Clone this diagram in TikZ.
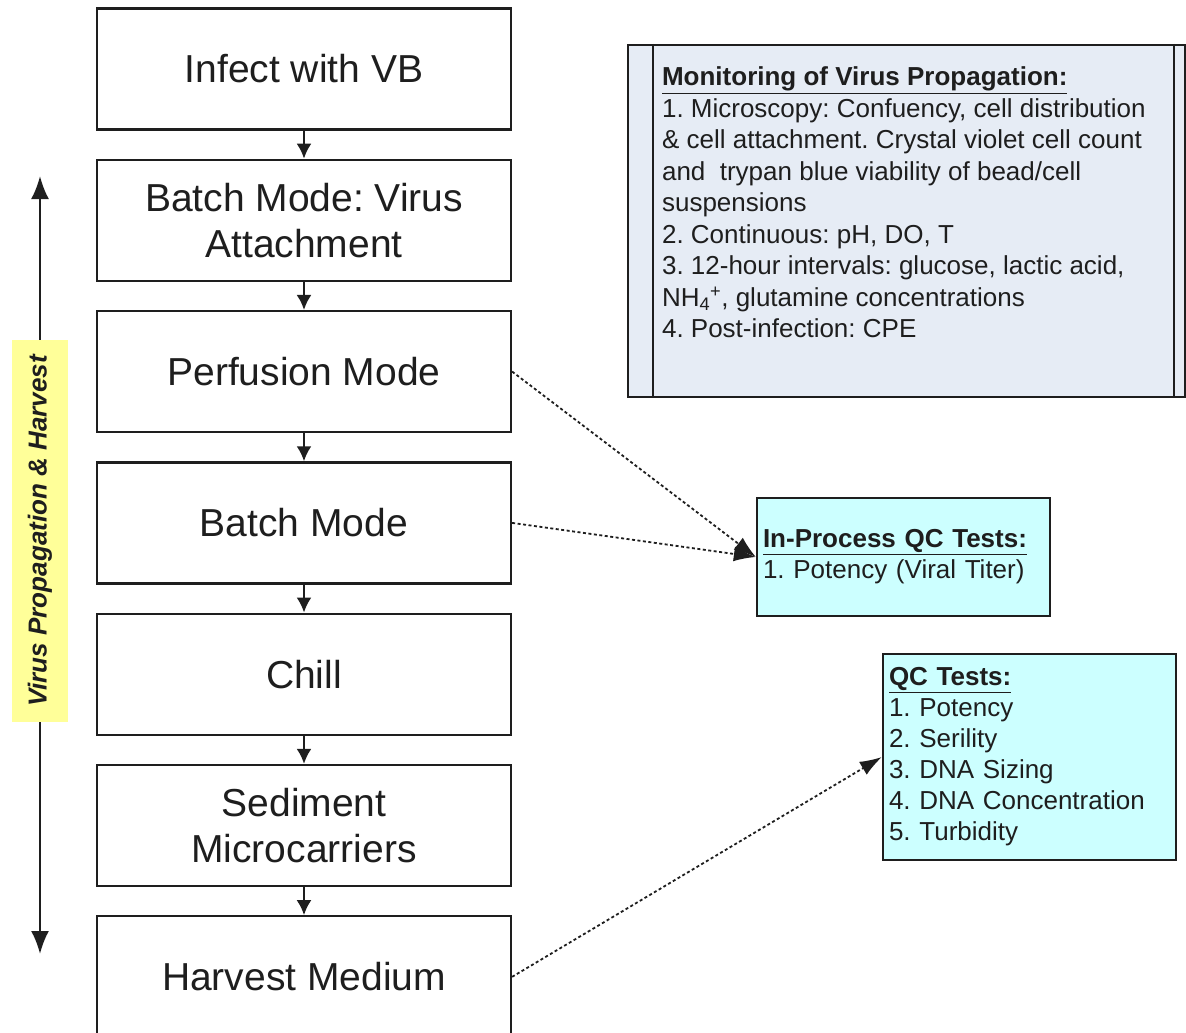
\documentclass[tikz,border=0pt]{standalone}
\usepackage{fontspec}
\setmainfont{Liberation Sans}
\usetikzlibrary{arrows.meta,positioning}
\definecolor{ink}{HTML}{1E1E1E}
\definecolor{monfill}{HTML}{E6ECF5}
\definecolor{qcfill}{HTML}{CCFFFF}
\definecolor{tagfill}{HTML}{FFFF99}
\frenchspacing
\tikzset{
  stage/.style={draw=ink, line width=2.3pt, fill=white, align=center, inner sep=0pt,
    minimum width=414pt, minimum height=121pt, font=\fontsize{39}{46}\selectfont, text=ink},
  qcbox/.style={draw=ink, line width=2.3pt, fill=qcfill, text width=281pt, align=left,
    inner sep=6pt, font=\fontsize{26}{31}\selectfont, text=ink},
  monbox/.style={draw=ink, line width=2.3pt, fill=monfill, minimum width=557pt, minimum height=352pt, inner sep=0pt},
  montext/.style={align=left, inner sep=0pt, font=\fontsize{26}{31.5}\selectfont, text=ink},
  tag/.style={fill=tagfill, minimum width=382pt, minimum height=56pt, inner sep=0pt,
    font=\fontsize{26}{30}\selectfont\bfseries\itshape, text=ink},
  ar/.style={-{Latex[length=15pt,width=15pt]}, line width=2.3pt, draw=ink},
  longar/.style={{Latex[length=23pt,width=18pt]}-{Latex[length=23pt,width=18pt]}, line width=2.5pt, draw=ink},
  dotar/.style={-{Latex[length=22pt,width=15pt]}, line width=1.8pt, dash pattern=on 3pt off 2.5pt, draw=ink},
}
\begin{document}
\begin{tikzpicture}[x=1pt, y=-1pt, node distance=28pt]
  \useasboundingbox (0,0) rectangle (1186,1033);

  % process chain
  \node[stage] (inf) at (304,69) {Infect with VB};
  \node[stage, below=of inf] (att) {Batch Mode: Virus\\Attachment};
  \node[stage, below=of att] (perf) {Perfusion Mode};
  \node[stage, below=of perf] (batch) {Batch Mode};
  \node[stage, below=of batch] (chill) {Chill};
  \node[stage, below=of chill] (sed) {Sediment\\Microcarriers};
  \node[stage, below=of sed] (harv) {Harvest Medium};
  \draw[ar] (inf) -- (att);
  \draw[ar] (att) -- (perf);
  \draw[ar] (perf) -- (batch);
  \draw[ar] (batch) -- (chill);
  \draw[ar] (chill) -- (sed);
  \draw[ar] (sed) -- (harv);

  % span of the propagation phase
  \coordinate (spantop) at (40,176);
  \coordinate (spanbot) at (40,954);
  \draw[longar] (spanbot) -- (spantop);
  \node[tag, rotate=90] (phase) at (40,531) {Virus Propagation \& Harvest};

  % monitoring panel
  \node[monbox] (mon) at (906.5,221) {};
  \draw[ink, line width=2.3pt] ([xshift=26pt]mon.north west) -- ([xshift=26pt]mon.south west);
  \draw[ink, line width=2.3pt] ([xshift=-12pt]mon.north east) -- ([xshift=-12pt]mon.south east);
  \node[montext, anchor=north west] (montxt) at ([xshift=35pt,yshift=-23pt]mon.north west)
    {\underline{\textbf{Monitoring of Virus Propagation:}}\\
     1. Microscopy: Confuency, cell distribution\\
     \& cell attachment. Crystal violet cell count\\
     and\ \ trypan blue viability of bead/cell\\
     suspensions\\
     2. Continuous: pH, DO, T\\
     3. 12-hour intervals: glucose, lactic acid,\\
     NH\textsubscript{4}\textsuperscript{+}, glutamine concentrations\\
     4. Post-infection: CPE};

  % QC checkpoints
  \node[qcbox, minimum height=118pt] (ipqc) at (903.5,557)
    {\underline{\textbf{In-Process QC Tests:}}\\1. Potency (Viral Titer)};
  \node[qcbox, minimum height=206pt] (qc) at (1029.5,757)
    {\underline{\textbf{QC Tests:}}\\1. Potency\\2. Serility\\3. DNA Sizing\\4. DNA Concentration\\5. Turbidity};
  \draw[dotar] (perf.east) -- (ipqc.west);
  \draw[dotar] (batch.east) -- (ipqc.west);
  \draw[dotar] (harv.east) -- (qc.west);
\end{tikzpicture}
\end{document}
